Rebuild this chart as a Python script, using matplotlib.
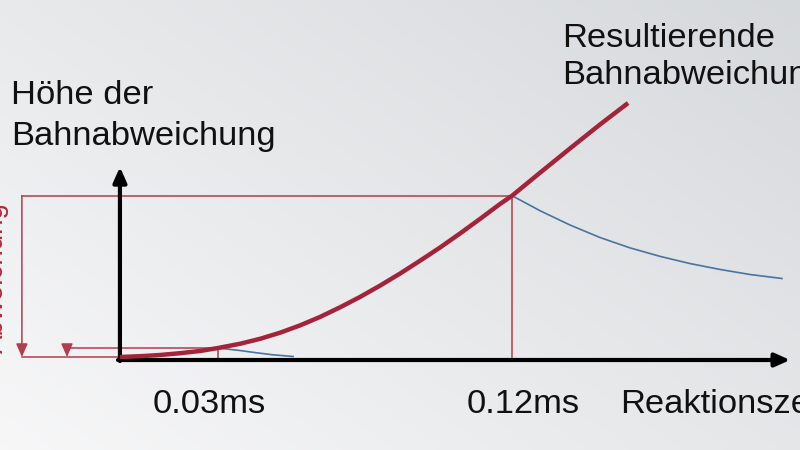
import numpy as np
import matplotlib.pyplot as plt
from matplotlib.colors import LinearSegmentedColormap

plt.rcParams['font.family'] = ['Liberation Sans', 'DejaVu Sans']

# resulting path deviation over reaction time (t in ms, height in px-like units)
t_result = [0.0, 0.0061, 0.0122, 0.0184, 0.0245, 0.0300, 0.0367, 0.0429,
            0.0490, 0.0551, 0.0612, 0.0673, 0.0735, 0.0796, 0.0857, 0.0918,
            0.0980, 0.1041, 0.1102, 0.1163, 0.1200, 0.1286, 0.1377, 0.1469, 0.1555]
h_result = [3.0, 3.8, 5.0, 6.8, 9.0, 12.0, 16.2, 21.2, 27.3, 34.6, 43.0, 52.6,
            63.1, 74.4, 86.4, 99.2, 112.6, 126.6, 141.1, 156.0, 164.3, 187.4,
            211.5, 235.5, 257.0]

# decay of the deviation after correction (blue)
t_decay_small = [0.0300, 0.0367, 0.0416, 0.0468, 0.0530]
h_decay_small = [12.0, 9.5, 7.3, 5.2, 3.5]
t_decay_big = [0.1200, 0.1286, 0.1377, 0.1469, 0.1561, 0.1653, 0.1745,
               0.1837, 0.1928, 0.2026]
h_decay_big = [164.3, 149.2, 135.0, 122.5, 112.1, 103.6, 96.4, 90.5, 85.5, 81.5]

t_marks = [0.03, 0.12]
mark_labels = ['0.03ms', '0.12ms']

RED = '#a3233a'
RED_THIN = '#b23d4c'
BLUE = '#4a73a0'
INK = '#111111'

fig = plt.figure(figsize=(8, 4.5), dpi=100)
ax = fig.add_axes([0, 0, 1, 1])
xmin, xmax = -0.0367, 0.2081
ymin, ymax = -90, 360
ax.set_xlim(xmin, xmax)
ax.set_ylim(ymin, ymax)
ax.axis('off')

# background gradient, light bottom-left -> darker top-right
u, v = np.meshgrid(np.linspace(0, 1, 200), np.linspace(0, 1, 120))
grad = 0.55 * u + 0.45 * v
cmap = LinearSegmentedColormap.from_list('bg', ['#f7f7f8', '#d6d9dc'])
ax.imshow(grad, extent=(xmin, xmax, ymin, ymax), origin='lower',
          aspect='auto', cmap=cmap, zorder=0)

h_marks = np.interp(t_marks, t_result, h_result)
h0 = h_result[0]

# guide lines
gx_big, gx_small = -0.0300, -0.0162
ax.plot([gx_big, t_marks[1]], [h_marks[1], h_marks[1]], color=RED_THIN, lw=1.1, zorder=2)
ax.plot([t_marks[1], t_marks[1]], [0, h_marks[1]], color=RED_THIN, lw=1.1, zorder=2)
ax.plot([gx_small, t_marks[0]], [h_marks[0], h_marks[0]], color=RED_THIN, lw=1.1, zorder=2)
ax.plot([t_marks[0], t_marks[0]], [0, h_marks[0]], color=RED_THIN, lw=1.1, zorder=2)
ax.plot([gx_big, 0], [h0, h0], color=RED_THIN, lw=1.1, zorder=2)
arr = dict(arrowstyle='-|>,head_length=0.8,head_width=0.35', color=RED_THIN,
           lw=1.1, shrinkA=0, shrinkB=0, mutation_scale=10)
ax.annotate('', xy=(gx_big, h0), xytext=(gx_big, h_marks[1]), arrowprops=arr, zorder=2)
ax.annotate('', xy=(gx_small, h0), xytext=(gx_small, h_marks[0]), arrowprops=arr, zorder=2)

# axes
axarr = dict(arrowstyle='-|>,head_length=0.9,head_width=0.4', color='black',
             lw=3, shrinkA=0, shrinkB=0, mutation_scale=10)
ax.annotate('', xy=(0.2051, 0), xytext=(-0.0006, 0), arrowprops=axarr, zorder=3)
ax.annotate('', xy=(0, 193), xytext=(0, -1), arrowprops=axarr, zorder=3)

# curves
ax.plot(t_decay_small, h_decay_small, color=BLUE, lw=1.2, zorder=4)
ax.plot(t_decay_big, h_decay_big, color=BLUE, lw=1.2, zorder=4)
ax.plot(t_result, h_result, color=RED, lw=3.2, solid_capstyle='butt',
        solid_joinstyle='round', zorder=5)

# texts
fs = 24.8
label_dx = [-6, 8]
for t, lab, dx in zip(t_marks, mark_labels, label_dx):
    ax.annotate(lab, xy=(t, -53), xytext=(dx, 0), textcoords='offset points',
                ha='center', va='baseline', fontsize=fs, color=INK)
ax.text(0.1530, -53, 'Reaktionszeit', ha='left', va='baseline', fontsize=fs, color=INK)

def px(x, y):
    return x / 800, 1 - y / 450

fig.text(*px(11, 104), 'Höhe der', fontsize=fs, va='baseline', color=INK)
fig.text(*px(11, 145), 'Bahnabweichung', fontsize=fs, va='baseline', color=INK)
fig.text(*px(562, 47), 'Resultierende', fontsize=fs, va='baseline', color=INK)
fig.text(*px(562, 84), 'Bahnabweichung', fontsize=fs, va='baseline', color=INK)

ax.text(-0.0358, 82, 'Abweichung', rotation=90, rotation_mode='anchor',
        ha='center', va='baseline', fontsize=20, color='#b0283c', zorder=2)

fig.savefig('out.png', dpi=100)
